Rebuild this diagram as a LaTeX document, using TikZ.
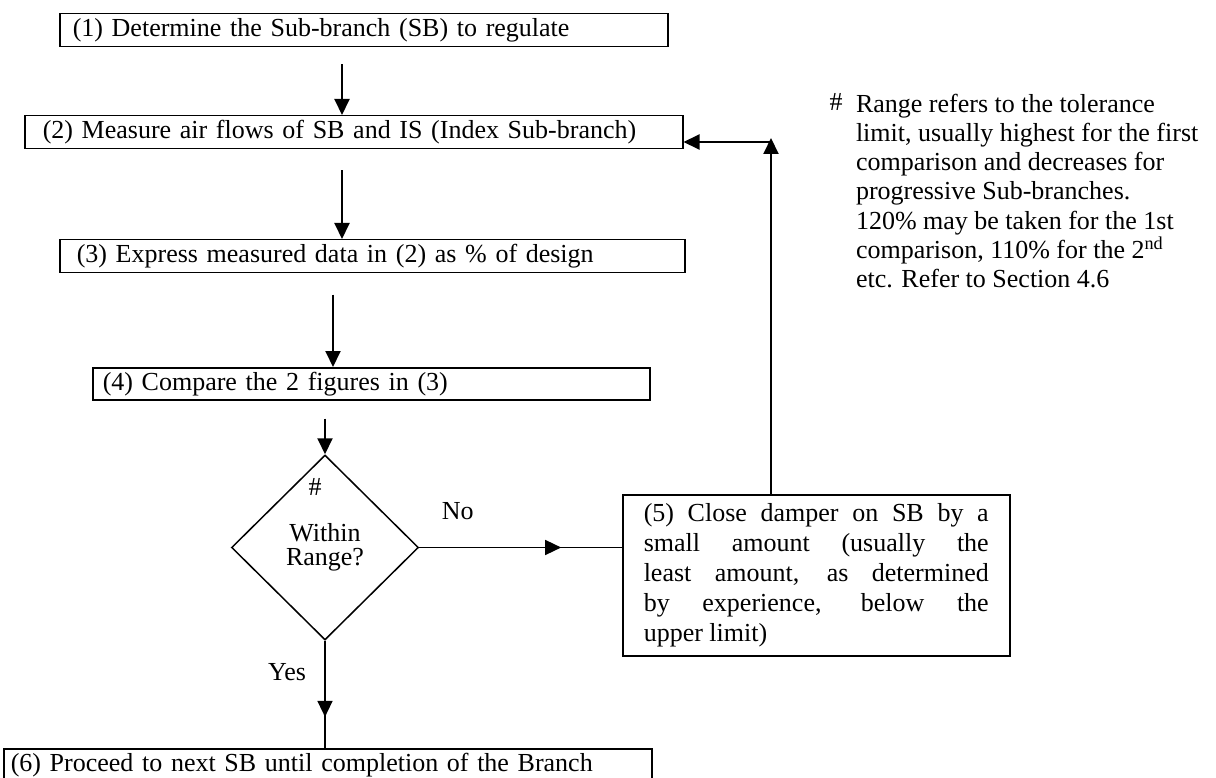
\documentclass[tikz,border=0pt]{standalone}
\usepackage{fontspec}
\setmainfont{Liberation Serif}
\usetikzlibrary{arrows.meta,shapes.geometric,decorations.markings}

\begin{document}
\begin{tikzpicture}[->,>={Triangle[length=16pt,width=15pt]},line width=2pt,x=1pt,y=-1pt,
  font=\fontsize{26pt}{30pt}\selectfont]
  \tikzstyle{stepbox}=[draw,line width=1.5pt,anchor=north west,align=left,inner ysep=0pt,
    minimum height=33pt,text height=18pt,text depth=5pt]
  \tikzstyle{decision}=[diamond,draw,line width=1.5pt,inner sep=0pt,align=center,
    minimum width=187pt,minimum height=185pt,font=\fontsize{26pt}{24pt}\selectfont]
  \tikzset{midarrow/.style={-,line width=1.5pt,postaction={decorate},
    decoration={markings,mark=at position #1 with {\arrow{>}}}}}

  \useasboundingbox (0,0) rectangle (1216,778);

  \node[stepbox,text width=582pt,inner xsep=13pt] (s1) at (59,13)
    {(1) Determine the Sub-branch (SB) to regulate};
  \node[stepbox,text width=622pt,inner xsep=18pt] (s2) at (24,115)
    {(2) Measure air flows of SB and IS (Index Sub-branch)};
  \node[stepbox,text width=591pt,inner xsep=17pt] (s3) at (59,239)
    {(3) Express measured data in (2) as \% of design};
  \node[stepbox,text width=537pt,inner xsep=10pt,minimum height=32pt] (s4) at (92,367)
    {(4) Compare the 2 figures in (3)};
  \node[decision] (dec) at (325,547.5) {Within\\Range?};
  \node (hashd) at (315,487) {\#};
  \node[draw,line width=1.5pt,anchor=north west,text width=345pt,inner xsep=21pt,
    inner ysep=0pt,minimum height=161pt,align=justify] (s5) at (622,494)
    {\leftskip=30pt \tolerance=10000 \hyphenpenalty=10000
     (5) Close damper on SB by a\linebreak small amount (usually the\linebreak
     least amount, as determined\linebreak by experience, below the\linebreak
     upper limit)};
  \node[stepbox,text width=634pt,inner xsep=7pt] (s6) at (3,748)
    {(6) Proceed to next SB until completion of the Branch};

  % note on the range
  \node (hash) at (836,102) {\#};
  \node[anchor=north west,inner sep=0pt,align=left,
    font=\fontsize{26pt}{29.2pt}\selectfont] (note) at (855,93)
    {Range refers to the tolerance\\
     limit, usually highest for the first\\
     comparison and decreases for\\
     progressive Sub-branches.\\
     120\% may be taken for the 1st\\
     comparison, 110\% for the 2\textsuperscript{nd}\\
     etc. Refer to Section 4.6};

  \coordinate (ax) at (342,0);
  \coordinate (bx) at (333,0);
  \coordinate (back) at (771,142);

  \path (s1.south -| ax) edge[shorten <=17pt] (s2.north -| ax)
        (s2.south -| ax) edge[shorten <=21pt] (s3.north -| ax)
        (s3.south -| bx) edge[shorten <=21pt] (s4.north -| bx)
        (s4.south -| dec) edge[shorten <=18pt] (dec.north)
        (dec.east) edge[midarrow=0.7] node[pos=0.19,yshift=36pt] {No} (dec.east -| s5.west)
        (dec.south) edge[midarrow=0.71] node[pos=0.29,xshift=-38pt] {Yes} (s6.north -| dec)
        (s5.north -| back) edge[shorten >=-4pt] (back)
        (back) edge (back -| s2.east);
\end{tikzpicture}
\end{document}
